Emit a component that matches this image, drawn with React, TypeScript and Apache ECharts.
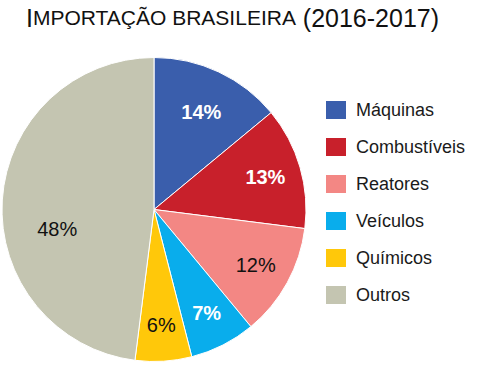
import React, { useEffect, useRef } from "react";
import * as echarts from "echarts";

const categories = ["Máquinas", "Combustíveis", "Reatores", "Veículos", "Químicos", "Outros"];
const values = [14, 13, 12, 7, 6, 48];
const colors = ["#3A5EAC", "#C8202B", "#F38784", "#09ADEC", "#FFC80A", "#C4C5B1"];
const labelColors = ["#ffffff", "#ffffff", "#111111", "#ffffff", "#111111", "#111111"];
const labelWeights = ["bold", "bold", "normal", "bold", "normal", "normal"];
const labelOffsets: [number, number][] = [[-2, 7], [0, 0], [0, 0], [0, 0], [0, 0], [19, 27]];

export default function App() {
  const ref = useRef<HTMLDivElement>(null);
  useEffect(() => {
    document.body.style.margin = "0";
    const chart = echarts.init(ref.current!, null, { renderer: "svg" });
    const font = "'Liberation Sans', Arial, sans-serif";
    chart.setOption({
      animation: false,
      title: {
        text: "{a|I}{b|MPORTAÇÃO BRASILEIRA}{a| (2016-2017)}",
        left: 21,
        top: 0,
        textStyle: {
          fontSize: 25,
          rich: {
            a: { fontFamily: font, fontSize: 25, color: "#111", fontWeight: "normal" },
            b: { fontFamily: font, fontSize: 21, color: "#111", fontWeight: "normal" },
          },
        },
      },
      legend: {
        orient: "vertical",
        left: 319,
        top: 94,
        icon: "rect",
        itemWidth: 22,
        itemHeight: 20,
        itemGap: 15,
        data: categories,
        textStyle: { fontFamily: font, fontSize: 18, color: "#1a1a1a", padding: [0, 0, 0, 4] },
        selectedMode: false,
      },
      series: [
        {
          type: "pie",
          center: [154, 209.5],
          radius: [0, 152],
          startAngle: 90,
          clockwise: true,
          silent: true,
          label: { show: false },
          labelLine: { show: false },
          itemStyle: { borderColor: "#ffffff", borderWidth: 1 },
          data: categories.map((name, i) => ({
            name,
            value: values[i],
            itemStyle: { color: colors[i] },
          })),
        },
        {
          type: "pie",
          center: [154, 209.5],
          radius: [74, 152],
          startAngle: 90,
          clockwise: true,
          silent: true,
          itemStyle: { color: "rgba(0,0,0,0)" },
          labelLine: { show: false },
          label: { show: true, position: "inside" },
          data: categories.map((name, i) => ({
            name,
            value: values[i],
            label: {
              formatter: values[i] + "%",
              color: labelColors[i],
              fontWeight: labelWeights[i],
              fontSize: 20,
              fontFamily: font,
              offset: labelOffsets[i],
            },
          })),
        },
      ],
    });
    return () => chart.dispose();
  }, []);
  return <div ref={ref} style={{ width: 478, height: 379 }} />;
}
